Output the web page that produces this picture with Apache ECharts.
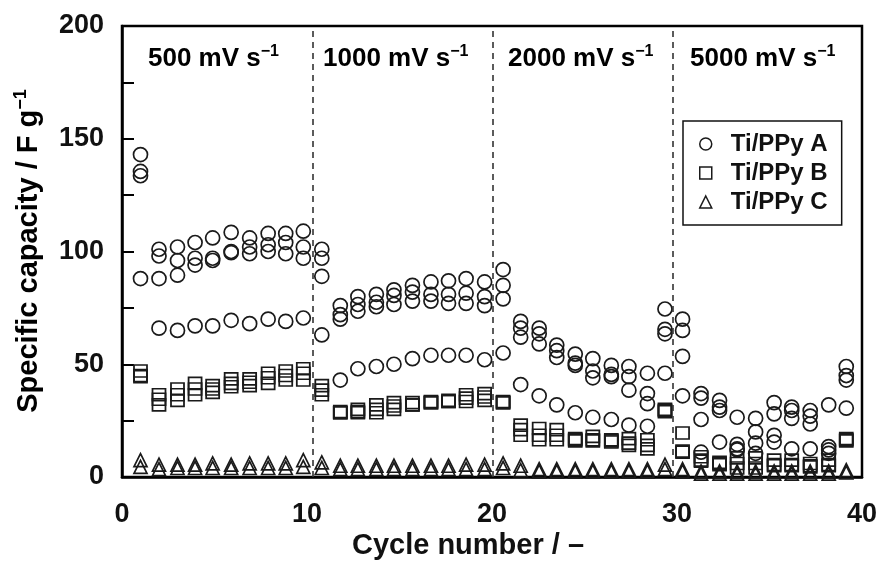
<!DOCTYPE html>
<html>
<head>
<meta charset="utf-8">
<script src="https://cdn.jsdelivr.net/npm/echarts@6/dist/echarts.min.js"></script>
<style>
  html, body { margin: 0; padding: 0; background: #fff; }
  #chart { width: 883px; height: 563px; }
</style>
</head>
<body>
<div id="chart"></div>
<script>
// cycle positions
var cycles = [1.0, 2.0, 3.0, 3.95, 4.9, 5.9, 6.9, 7.9, 8.85, 9.8,
    10.8, 11.8, 12.75, 13.75, 14.7, 15.7, 16.7, 17.65, 18.6, 19.6,
    20.6, 21.55, 22.55, 23.5, 24.5, 25.45, 26.45, 27.4, 28.4, 29.35,
    30.3, 31.3, 32.3, 33.25, 34.25, 35.25, 36.2, 37.2, 38.2, 39.15];

// Ti/PPy A (four electrodes)
var a1 = [143, 101, 102, 104, 106, 108.5, 106, 108, 108, 109,
    101, 76, 80, 81, 83, 85, 86.5, 87, 88, 86.5,
    92, 69, 66, 58.5, 54.5, 52.5, 49.5, 49, 46, 74.5,
    70, 37, 34, 26.5, 26, 33, 31, 29.5, 32, 49];
var a2 = [135.5, 98, 96, 97, 97, 100, 102, 103, 104, 102,
    97, 72, 76.5, 77.5, 80.5, 82, 81, 81, 81.5, 80,
    85, 66, 63.5, 56, 50.5, 47, 45.5, 44.5, 37, 65.5,
    65, 35, 31, 14.5, 20, 28, 29.5, 27, 13.5, 45];
var a3 = [133.6, 88, 89.5, 94, 96, 99.5, 99, 100, 99, 97,
    89, 70, 73.5, 75.5, 76.5, 78, 78, 77, 77, 76,
    79, 62, 59, 53, 49.5, 44, 44.5, 38.5, 32.5, 63.5,
    53.5, 25.5, 29.5, 12.5, 15, 18.5, 26, 23.5, 12, 43];
var a4 = [88, 66, 65, 67, 67, 69.5, 68, 70, 69, 70.5,
    63, 43, 48, 49, 50, 52.5, 54, 54, 54, 52,
    55, 41, 36, 32, 28.5, 26.5, 25.5, 23, 22.5, 46,
    36, 11, 15.5, 12, 10.5, 15.5, 12.5, 12.5, 10.5, 30.5];

// Ti/PPy B
var b1 = [47, 36.5, 39, 41.5, 40.5, 43.5, 43.5, 46, 47, 48,
    40.5, 29, 30, 32, 33, 33, 33.5, 34, 36.5, 37,
    33.5, 23, 21.5, 21, 17, 18, 16.5, 17, 16.5, 30,
    19.5, 9, 6.5, 8.5, 8.5, 7.5, 7.5, 6, 7.5, 17];
var b2 = [45, 34.5, 36.5, 39, 39, 41.5, 42, 44, 45, 46,
    38.5, 28.5, 29, 30, 31.5, 32, 33, 33.5, 35, 35.5,
    33, 21, 18.5, 18.5, 16.5, 16.5, 16, 15, 14, 29.5,
    11.5, 7.5, 6, 6, 6, 5.5, 5.5, 5, 5.5, 16.5];
var b3 = [44.5, 32, 34, 36.5, 37.5, 40, 40.5, 41.5, 43, 43,
    36.5, 28.5, 28.5, 28.5, 30, 32, 33, 33.5, 33.5, 34,
    33, 18.5, 16.5, 16.5, 16, 16, 15.5, 14, 12.5, 29,
    11, 7, 5.5, 4, 4, 5, 5, 4.5, 5, 16];

// Ti/PPy C
var c1 = [7.5, 5.5, 5.5, 5.5, 6, 5.5, 6, 6, 6, 7.5,
    6.5, 5, 5, 5, 5, 5, 5, 5, 5.5, 5.5,
    6, 5, 3.5, 3.5, 3.5, 3.5, 3.5, 3.5, 3.5, 5.5,
    3.5, 2.5, 2.5, 2.5, 2.5, 2.5, 2.5, 2.5, 2.5, 3];
var c2 = [4.5, 3.5, 4, 4, 4, 4, 4, 4, 4, 4.5,
    4, 3.5, 3.5, 3.5, 3.5, 3.5, 3.5, 3.5, 3.5, 3.5,
    4, 3, 2.5, 2.5, 2.5, 2.5, 2.5, 2.5, 2.5, 3.5,
    2.5, 1.5, 1.5, 1.5, 1.5, 1.5, 1.5, 1.5, 1.5, 2];

var rateBreaks = [10.3, 20.05, 29.75];
var rateLabels = ['500', '1000', '2000', '5000'];
var xTicks = [0, 10, 20, 30, 40];
var yTicks = [0, 50, 100, 150, 200];

var FONT = 'Liberation Sans, Arial, sans-serif';
var INK = '#1a1a1a';

function pairs(vals) {
    var arr = [];
    for (var i = 0; i < vals.length; i++) {
        arr.push([cycles[i], vals[i]]);
    }
    return arr;
}

function markSeries(name, vals, symbol, size) {
    return {
        name: name,
        type: 'scatter',
        symbol: symbol,
        symbolSize: size,
        itemStyle: {
            color: 'rgba(0,0,0,0)',
            borderColor: INK,
            borderWidth: 1.7,
            opacity: 1
        },
        emphasis: { disabled: true },
        data: pairs(vals)
    };
}

var myChart = echarts.init(document.getElementById('chart'));

var series = [
    markSeries('Ti/PPy A', a1, 'circle', 14),
    markSeries('Ti/PPy A', a2, 'circle', 14),
    markSeries('Ti/PPy A', a3, 'circle', 14),
    markSeries('Ti/PPy A', a4, 'circle', 14),
    markSeries('Ti/PPy B', b1, 'rect', [13, 12]),
    markSeries('Ti/PPy B', b2, 'rect', [13, 12]),
    markSeries('Ti/PPy B', b3, 'rect', [13, 12]),
    markSeries('Ti/PPy C', c1, 'triangle', 13),
    markSeries('Ti/PPy C', c2, 'triangle', 13)
];

// dashed separators between scan rates
series[0].markLine = {
    silent: true,
    symbol: 'none',
    label: { show: false },
    lineStyle: { color: '#333', type: [6, 5], width: 1.6 },
    data: rateBreaks.map(function (v) { return { xAxis: v }; })
};

var legendStyle = { color: '#fff', borderColor: INK, borderWidth: 1.5 };

var rich = {
    a: { fontFamily: FONT, fontWeight: 'bold', fontSize: 26, color: '#111', lineHeight: 30 },
    s: { fontFamily: FONT, fontWeight: 'bold', fontSize: 16, color: '#111', lineHeight: 30, verticalAlign: 'top' }
};
var rateX = [148, 323, 508, 690];
var graphics = rateLabels.map(function (r, i) {
    return {
        type: 'text',
        left: rateX[i],
        top: 44,
        style: { text: '{a|' + r + ' mV s}{s|\u22121}', rich: rich }
    };
});
// y-axis title
graphics.push({
    type: 'text',
    x: 29,
    y: 251,
    rotation: Math.PI / 2,
    style: {
        text: '{a|Specific capacity / F g}{s|\u22121}',
        rich: {
            a: { fontFamily: FONT, fontWeight: 'bold', fontSize: 29, color: '#111', lineHeight: 34 },
            s: { fontFamily: FONT, fontWeight: 'bold', fontSize: 18, color: '#111', lineHeight: 34, verticalAlign: 'top' }
        },
        align: 'center',
        verticalAlign: 'middle'
    }
});
// x-axis title
graphics.push({
    type: 'text',
    x: 468,
    y: 546,
    style: {
        text: 'Cycle number / \u2013',
        fontFamily: FONT, fontWeight: 'bold', fontSize: 29, fill: '#111',
        align: 'center',
        verticalAlign: 'middle'
    }
});

var option = {
    animation: false,
    backgroundColor: '#fff',
    grid: {
        left: 122,
        right: 21,
        top: 26,
        bottom: 86,
        show: true,
        borderColor: '#000',
        borderWidth: 2.5
    },
    legend: {
        orient: 'vertical',
        left: 683,
        top: 121,
        padding: [11, 14, 11, 16],
        itemGap: 5,
        itemWidth: 12,
        itemHeight: 12,
        borderColor: '#111',
        borderWidth: 1.5,
        backgroundColor: '#fff',
        textStyle: { fontFamily: FONT, fontWeight: 'bold', fontSize: 24, color: '#111', padding: [0, 0, 0, 14] },
        data: [
            { name: 'Ti/PPy A', icon: 'circle', itemStyle: legendStyle },
            { name: 'Ti/PPy B', icon: 'rect', itemStyle: legendStyle },
            { name: 'Ti/PPy C', icon: 'triangle', itemStyle: legendStyle }
        ]
    },
    xAxis: {
        type: 'value',
        min: 0,
        max: 40,
        interval: 10,
        axisLine: { lineStyle: { color: '#000', width: 2.5 } },
        axisTick: { show: false },
        splitLine: { show: false },
        axisLabel: {
            margin: 24,
            fontFamily: FONT, fontWeight: 'bold', fontSize: 27, color: '#111',
            formatter: function (v) { return xTicks.indexOf(v) >= 0 ? v : ''; }
        }
    },
    yAxis: {
        type: 'value',
        min: 0,
        max: 200,
        interval: 25,
        axisLine: { lineStyle: { color: '#000', width: 2.5 } },
        axisTick: { inside: true, length: 12, lineStyle: { color: '#000', width: 2 } },
        splitLine: { show: false },
        axisLabel: {
            margin: 18,
            fontFamily: FONT, fontWeight: 'bold', fontSize: 27, color: '#111',
            formatter: function (v) { return yTicks.indexOf(v) >= 0 ? v : ''; }
        }
    },
    graphic: graphics,
    series: series
};

myChart.setOption(option);
</script>
</body>
</html>
